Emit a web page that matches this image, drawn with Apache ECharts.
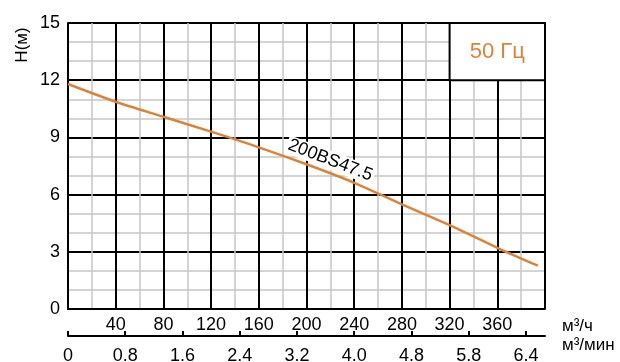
<!DOCTYPE html>
<html>
<head>
<meta charset="utf-8">
<script src="https://cdn.jsdelivr.net/npm/echarts@6/dist/echarts.min.js"></script>
<style>html,body{margin:0;padding:0;background:#fff}#c{width:620px;height:362px}</style>
</head>
<body>
<div id="c"></div>
<script>
// Flow (m³/h) and head (m)
var flow = [0, 40, 80, 120, 160, 200, 240, 280, 320, 360, 394];
var head = [11.8, 10.87, 10.08, 9.3, 8.48, 7.59, 6.62, 5.49, 4.4, 3.21, 2.27];
// Secondary axis (m³/min) tick values and their printed labels
var minTicks = [0, 0.8, 1.6, 2.4, 3.2, 4.0, 4.8, 5.6, 6.4];
var minLabels = ['0', '0.8', '1.6', '2.4', '3.2', '4.0', '4.8', '5.8', '6.4'];
var seriesName = '200BS47.5';
var freqLabel = '50 Гц';

var FONT = '"Liberation Sans", Arial, sans-serif';
var ORANGE = '#D9843A';

var chart = echarts.init(document.getElementById('c'), null, {renderer: 'canvas'});
var option = {
  animation: false,
  backgroundColor: '#fff',
  grid: [
    {left: 68, right: 75, top: 23, bottom: 53},
    {left: 68, right: 75, top: 336, height: 0}
  ],
  xAxis: [
    {
      type: 'value', gridIndex: 0, min: 0, max: 400, interval: 40,
      axisLine: {show: true, onZero: false, lineStyle: {color: '#000', width: 2}},
      axisTick: {show: false},
      axisLabel: {
        fontFamily: FONT, fontSize: 18, color: '#000', margin: 7,
        formatter: function (v) { return (v === 0 || v === 400) ? '' : String(v); }
      },
      splitLine: {show: true, lineStyle: {color: '#000', width: 2}},
      minorTick: {show: false, splitNumber: 2},
      minorSplitLine: {show: true, lineStyle: {color: '#c6c6c6', width: 1.5}}
    },
    {
      type: 'value', gridIndex: 1, min: 0, max: 400 / 60, position: 'bottom',
      axisLine: {show: true, onZero: false, lineStyle: {color: '#000', width: 2}},
      axisTick: {show: true, inside: true, length: 5, customValues: minTicks, lineStyle: {color: '#000', width: 2}},
      axisLabel: {
        fontFamily: FONT, fontSize: 18, color: '#000', margin: 11,
        customValues: minTicks,
        formatter: function (v) {
          var i = Math.round(v / 0.8);
          return Math.abs(v - minTicks[i]) < 1e-6 ? minLabels[i] : '';
        }
      },
      splitLine: {show: false}
    }
  ],
  yAxis: [
    {
      type: 'value', gridIndex: 0, min: 0, max: 15, interval: 3,
      axisLine: {show: true, lineStyle: {color: '#000', width: 2}},
      axisTick: {show: false},
      axisLabel: {fontFamily: FONT, fontSize: 18, color: '#000', margin: 8},
      splitLine: {show: true, lineStyle: {color: '#000', width: 2}},
      minorTick: {show: false, splitNumber: 3},
      minorSplitLine: {show: true, lineStyle: {color: '#c6c6c6', width: 1.5}}
    },
    {
      type: 'value', gridIndex: 1, min: 0, max: 1, show: false
    }
  ],
  series: [{
    type: 'line', name: seriesName, xAxisIndex: 0, yAxisIndex: 0,
    data: flow.map(function (f, i) { return [f, head[i]]; }),
    showSymbol: false, smooth: 0.3,
    lineStyle: {color: ORANGE, width: 2.5},
    markArea: {
      silent: true,
      itemStyle: {color: '#fff', borderColor: '#000', borderWidth: 2, opacity: 1},
      label: {show: true, position: 'inside', formatter: freqLabel, color: ORANGE, fontFamily: FONT, fontSize: 22},
      data: [[{coord: [320, 15]}, {coord: [400, 12]}]]
    }
  }]
};
chart.setOption(option);

var p = chart.convertToPixel({gridIndex: 0}, [220, 7.8]);
chart.setOption({
  graphic: [
    {
      type: 'text', x: p[0], y: p[1], rotation: -21 * Math.PI / 180, z: 100,
      style: {text: seriesName, fontFamily: FONT, fontSize: 18, fill: '#000',
        align: 'center', verticalAlign: 'middle', backgroundColor: '#fff', padding: [0, 2]}
    },
    {
      type: 'text', x: 22, y: 45, rotation: Math.PI / 2, z: 100,
      style: {text: 'H(м)', fontFamily: FONT, fontSize: 17, fill: '#000', align: 'center', verticalAlign: 'middle'}
    },
    {
      type: 'text', x: 562, y: 326, z: 100,
      style: {text: 'м³/ч', fontFamily: FONT, fontSize: 17, fill: '#000', align: 'left', verticalAlign: 'middle'}
    },
    {
      type: 'text', x: 562, y: 345, z: 100,
      style: {text: 'м³/мин', fontFamily: FONT, fontSize: 17, fill: '#000', align: 'left', verticalAlign: 'middle'}
    }
  ]
});
</script>
</body>
</html>
